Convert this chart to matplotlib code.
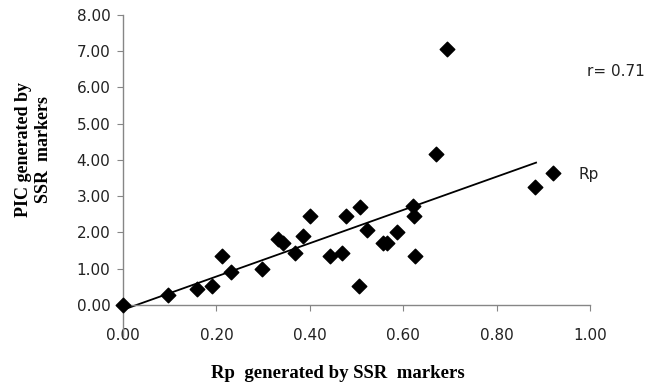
import numpy as np
import matplotlib.pyplot as plt

# Rp and PIC values
rp = [0.000, 0.096, 0.158, 0.191, 0.212, 0.231, 0.297, 0.331, 0.343, 0.368,
      0.385, 0.400, 0.443, 0.468, 0.478, 0.505, 0.507, 0.522, 0.557, 0.566,
      0.586, 0.620, 0.622, 0.625, 0.670, 0.694, 0.882, 0.921]
pic = [0.00, 0.28, 0.44, 0.53, 1.35, 0.90, 0.98, 1.81, 1.72, 1.44,
       1.90, 2.44, 1.35, 1.44, 2.44, 0.52, 2.71, 2.07, 1.72, 1.72,
       2.00, 2.73, 2.44, 1.35, 4.17, 7.06, 3.26, 3.64]
x_ticks = [0.0, 0.2, 0.4, 0.6, 0.8, 1.0]
y_ticks = [0, 1, 2, 3, 4, 5, 6, 7, 8]

grey = '#868686'

fig = plt.figure(figsize=(6.61, 3.89), dpi=100)
ax = fig.add_axes([0.186, 0.137, 0.707, 0.825])

ax.scatter(rp, pic, marker='D', s=55, color='black', zorder=3, clip_on=False)

# linear trend line
slope, icpt = np.polyfit(rp, pic, 1)
xs = np.array([0.0, 0.884])
ax.plot(xs, slope * xs + icpt, color='black', lw=1.3, zorder=2)

ax.set_xlim(0, 1.0)
ax.set_ylim(-0.85, 8)
ax.set_xticks(x_ticks)
ax.set_xticklabels(['%.2f' % v for v in x_ticks])
ax.set_yticks(y_ticks)
ax.set_yticklabels(['%.2f' % v for v in y_ticks])

for s in ['top', 'right']:
    ax.spines[s].set_visible(False)
ax.spines['bottom'].set_position(('data', 0))
for s in ['left', 'bottom']:
    ax.spines[s].set_color(grey)
    ax.spines[s].set_linewidth(1.0)
ax.tick_params(axis='both', colors=grey, length=4, labelsize=11, labelcolor='#222222')
ax.tick_params(axis='x', pad=13)
ax.tick_params(axis='y', pad=5)

ax.set_xlabel('Rp  generated by SSR  markers', family='Liberation Serif',
              fontweight='bold', fontsize=13.5)
ax.xaxis.set_label_coords(0.46, -0.09)
ax.set_ylabel('PIC generated by\nSSR  markers', family='Liberation Serif',
              fontweight='bold', fontsize=13, linespacing=1.25)
ax.yaxis.set_label_coords(-0.152, 0.58)

ax.text(0.994, 6.43, 'r= 0.71', fontsize=11, ha='left', va='center', color='#222222')
ax.text(0.974, 3.59, 'Rp', fontsize=11, ha='left', va='center', color='#222222')

fig.savefig('out.png', dpi=100)
